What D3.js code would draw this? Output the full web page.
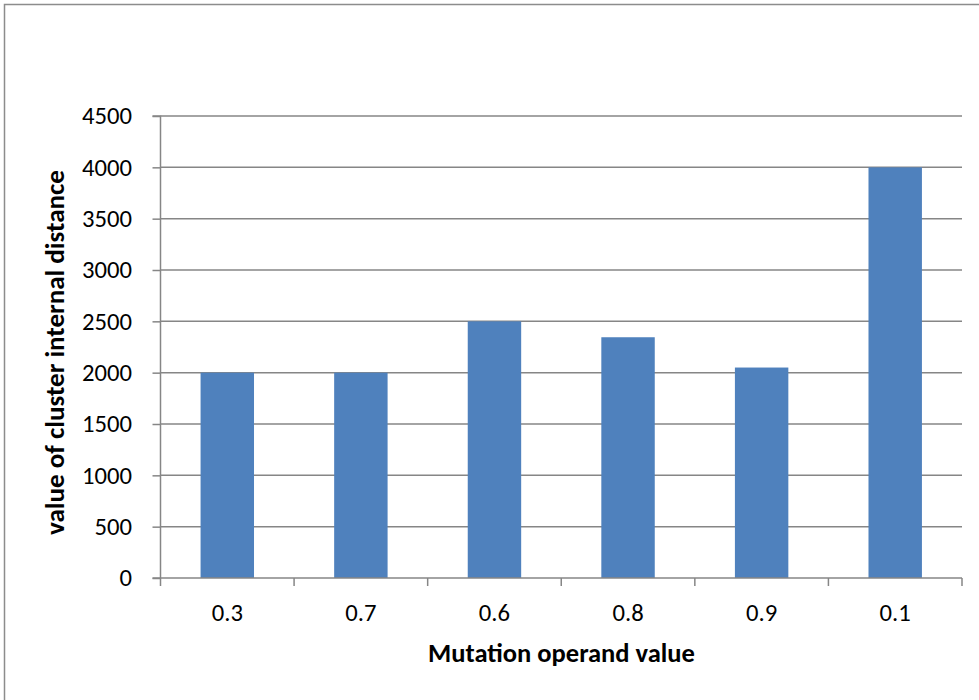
<!DOCTYPE html>
<html><head><meta charset="utf-8">
<script src="https://cdn.jsdelivr.net/npm/d3@7"></script>
<style>body{margin:0;background:#fff}svg{display:block}</style>
</head><body>
<script>
const categories = ["0.3","0.7","0.6","0.8","0.9","0.1"];
const values = [2000, 2000, 2500, 2345, 2050, 4000];
const yTicks = [0,500,1000,1500,2000,2500,3000,3500,4000,4500];
const xTitle = "Mutation operand value";
const yTitle = "value of cluster internal distance";

const W = 979, H = 700;
const font = "Carlito, Calibri, 'Open Sans', 'Noto Sans', sans-serif";
const svg = d3.select("body").append("svg").attr("width", W).attr("height", H);
svg.append("rect").attr("x",4.5).attr("y",4.5).attr("width",W+10).attr("height",H+10)
  .attr("fill","#fff").attr("stroke","#8c8c8c").attr("stroke-width",1.5);

const L = 160.5, R = 962, T = 116, B = 578;
const x = d3.scaleBand().domain(categories).range([L, R]).paddingInner(0.6).paddingOuter(0.3);
const xb = d3.scaleBand().domain(categories).range([L, R]);
const y = d3.scaleLinear().domain([0,4500]).range([B, T]);

function fit(sel, target) {
  const n = sel.node();
  const fs = parseFloat(sel.attr("font-size"));
  const w = n.getComputedTextLength();
  if (w > 0) sel.attr("font-size", (fs * target / w).toFixed(2));
}

// gridlines
svg.append("g").selectAll("line").data(yTicks.filter(d=>d>0)).join("line")
  .attr("x1", L).attr("x2", R).attr("y1", d=>y(d)).attr("y2", d=>y(d))
  .attr("stroke","#868686").attr("stroke-width",1.5);

// bars
svg.append("g").selectAll("rect").data(values).join("rect")
  .attr("x",(d,i)=>x(categories[i])).attr("width",x.bandwidth())
  .attr("y",d=>y(d)).attr("height",d=>B-y(d)).attr("fill","#4f81bd");

// tick font size fitted so "4500" is ~50px wide
const probe = svg.append("text").attr("font-family",font).attr("font-size",24).text("4500");
fit(probe, 50);
const tickFs = +probe.attr("font-size");
probe.remove();

// y axis
const ya = d3.axisLeft(y).tickValues(yTicks).tickSize(8).tickPadding(20.5).tickFormat(d3.format("d"));
const gy = svg.append("g").attr("transform",`translate(${L},0)`).call(ya);
gy.select(".domain").attr("d",`M-8,${T}H0V${B}`).attr("stroke","#868686").attr("stroke-width",1.5);
gy.selectAll(".tick line").attr("stroke","#868686").attr("stroke-width",1.5);
gy.selectAll("text").attr("font-family",font).attr("font-size",tickFs).attr("fill","#000");

// x axis
const gx = svg.append("g").attr("transform",`translate(0,${B})`)
  .call(d3.axisBottom(x).tickSize(0).tickPadding(0));
gx.select(".domain").remove();
gx.selectAll("text").attr("font-family",font).attr("font-size",tickFs).attr("fill","#000")
  .attr("dy",null).attr("y",43);
svg.append("line").attr("x1",L-8).attr("x2",R).attr("y1",B).attr("y2",B).attr("stroke","#868686").attr("stroke-width",1.5);
const bounds = categories.map(c=>xb(c)).concat([R]);
svg.append("g").selectAll("line").data(bounds).join("line")
  .attr("x1",d=>d).attr("x2",d=>d).attr("y1",B).attr("y2",B+8)
  .attr("stroke","#868686").attr("stroke-width",1.5);

// titles
const xt = svg.append("text").attr("x",561.5).attr("y",662).attr("text-anchor","middle")
  .attr("font-family",font).attr("font-size",26).attr("font-weight","bold").attr("fill","#000").text(xTitle);
fit(xt, 267);
const yt = svg.append("text").attr("transform",`translate(64,352.5) rotate(-90)`).attr("text-anchor","middle")
  .attr("font-family",font).attr("font-size",26).attr("font-weight","bold").attr("fill","#000").text(yTitle);
fit(yt, 365);
</script>
</body></html>
